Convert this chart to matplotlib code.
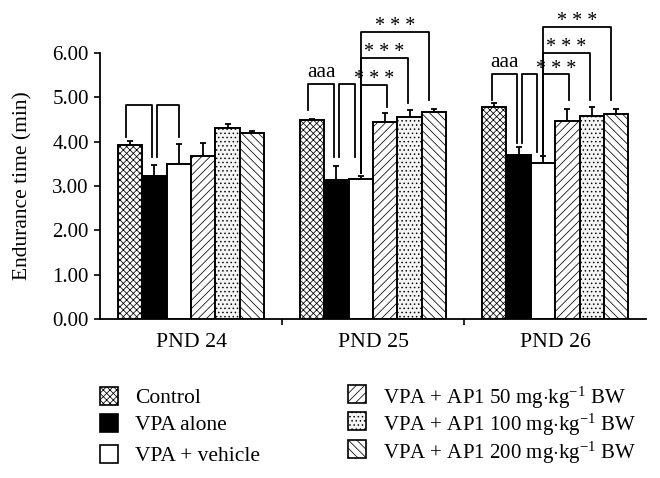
import matplotlib
matplotlib.use("Agg")
import matplotlib.pyplot as plt
from matplotlib.patches import Rectangle
import numpy as np

plt.rcParams["font.family"] = ["Liberation Serif", "DejaVu Serif"]
plt.rcParams["mathtext.fontset"] = "custom"
plt.rcParams["mathtext.rm"] = "Liberation Serif"
plt.rcParams["mathtext.it"] = "Liberation Serif:italic"
plt.rcParams["hatch.linewidth"] = 0.55

days = ["PND 24", "PND 25", "PND 26"]
groups = ["Control", "VPA alone", "VPA + vehicle",
          r"VPA + AP1 50 mg$\cdot$kg$^{-1}$ BW",
          r"VPA + AP1 100 mg$\cdot$kg$^{-1}$ BW",
          r"VPA + AP1 200 mg$\cdot$kg$^{-1}$ BW"]

control = [3.92, 4.49, 4.79]
vpa_alone = [3.22, 3.14, 3.70]
vpa_vehicle = [3.50, 3.15, 3.51]
ap1_50 = [3.68, 4.45, 4.46]
ap1_100 = [4.30, 4.55, 4.59]
ap1_200 = [4.19, 4.68, 4.63]

control_err = [0.10, 0.02, 0.08]
vpa_alone_err = [0.26, 0.32, 0.17]
vpa_vehicle_err = [0.45, 0.08, 0.17]
ap1_50_err = [0.30, 0.19, 0.27]
ap1_100_err = [0.10, 0.17, 0.19]
ap1_200_err = [0.06, 0.06, 0.10]

values = [control, vpa_alone, vpa_vehicle, ap1_50, ap1_100, ap1_200]
errors = [control_err, vpa_alone_err, vpa_vehicle_err,
          ap1_50_err, ap1_100_err, ap1_200_err]

faces = ["white", "black", "white", "white", "#f4f4f4", "white"]
hatches = ["xxxxx", None, None, "////", "....", "\\\\\\\\"]

# significance brackets: (day, bar a, bar b, top, left end, right end, dx a, dx b, label)
brackets = [
    (0, 0, 1, 4.83, 4.11, 3.66, -0.02, -0.014, ""),
    (0, 1, 2, 4.83, 3.66, 4.11, 0.014, 0.0, ""),
    (1, 0, 1, 5.30, 4.71, 3.65, -0.02, -0.014, "aaa"),
    (1, 1, 2, 5.30, 3.65, 3.65, 0.014, -0.03, ""),
    (1, 2, 3, 5.28, 3.30, 4.79, 0.0, 0.01, "* * *"),
    (1, 2, 4, 5.89, 3.30, 4.87, 0.0, -0.01, "* * *"),
    (1, 2, 5, 6.47, 3.30, 4.94, 0.0, -0.03, "* * *"),
    (2, 0, 1, 5.52, 4.94, 3.96, -0.01, -0.01, "aaa"),
    (2, 1, 2, 5.52, 3.96, 3.77, 0.02, -0.03, ""),
    (2, 2, 3, 5.52, 3.63, 4.94, 0.0, 0.01, "* * *"),
    (2, 2, 4, 6.01, 3.63, 4.94, 0.0, -0.01, "* * *"),
    (2, 2, 5, 6.59, 3.63, 4.94, 0.0, -0.03, "* * *"),
]

fig = plt.figure(figsize=(6.6, 4.78), dpi=100)
ax = fig.add_axes([0.1515, 0.3326, 0.8275, 0.5564])

width = 0.134
x = np.arange(len(days))
for i, (vals, errs) in enumerate(zip(values, errors)):
    pos = x + (i - 2.5) * width
    ax.bar(pos, vals, width, color=faces[i], edgecolor="black",
           linewidth=1.4, hatch=hatches[i], zorder=2)
    ax.errorbar(pos, vals, yerr=[np.zeros(len(vals)), errs], fmt="none",
                ecolor="black", elinewidth=1.3, capsize=2.5, capthick=1.3,
                zorder=1)

for day, a, bb, top, ya, yb, da, db, label in brackets:
    xa = x[day] + (a - 2.5) * width + da
    xb = x[day] + (bb - 2.5) * width + db
    ax.plot([xa, xa, xb, xb], [ya, top, top, yb], color="black", lw=1.3,
            clip_on=False, zorder=3)
    if label == "aaa":
        ax.text((xa + xb) / 2, top + 0.27, label, ha="center", va="center",
                fontsize=15.5, clip_on=False)
    elif label:
        ax.text((xa + xb) / 2, top + 0.12, label, ha="center", va="center",
                fontsize=14.5, clip_on=False)

ax.set_xlim(-0.5, 2.5)
ax.set_ylim(0, 6)
ax.set_yticks(np.arange(0, 7, 1))
ax.set_yticklabels([f"{v:.2f}" for v in np.arange(0, 7, 1)], fontsize=15)
ax.set_xticks(x)
ax.set_xticklabels(days, fontsize=15.7)
ax.set_xticks([0.5, 1.5], minor=True)
ax.tick_params(axis="x", which="major", length=0, pad=10)
ax.tick_params(axis="x", which="minor", length=4, width=1.2, direction="out")
ax.tick_params(axis="y", length=4, width=1.2, direction="out", pad=4)
ax.set_ylabel("Endurance time (min)", fontsize=15.5)
ax.yaxis.set_label_coords(-0.123, 0.5)
for s in ["top", "right"]:
    ax.spines[s].set_visible(False)
for s in ["left", "bottom"]:
    ax.spines[s].set_linewidth(1.3)

# legend, drawn by hand in pixel positions of the figure
W, H = 660, 478
legend_cols = [(100, 135, [396, 423, 454], range(0, 3), 15.5),
               (348, 383, [394, 421, 449], range(3, 6), 15)]
sw = 18
for sx, tx, rows, idx, fs in legend_cols:
    for yc, i in zip(rows, idx):
        fig.patches.append(Rectangle((sx / W, 1 - (yc + sw / 2) / H),
                                     sw / W, sw / H, transform=fig.transFigure,
                                     facecolor=faces[i], edgecolor="black",
                                     linewidth=1.2, hatch=hatches[i]))
        fig.text(tx / W, 1 - yc / H, groups[i], fontsize=fs,
                 ha="left", va="center_baseline")

fig.savefig("out.png", dpi=100)
